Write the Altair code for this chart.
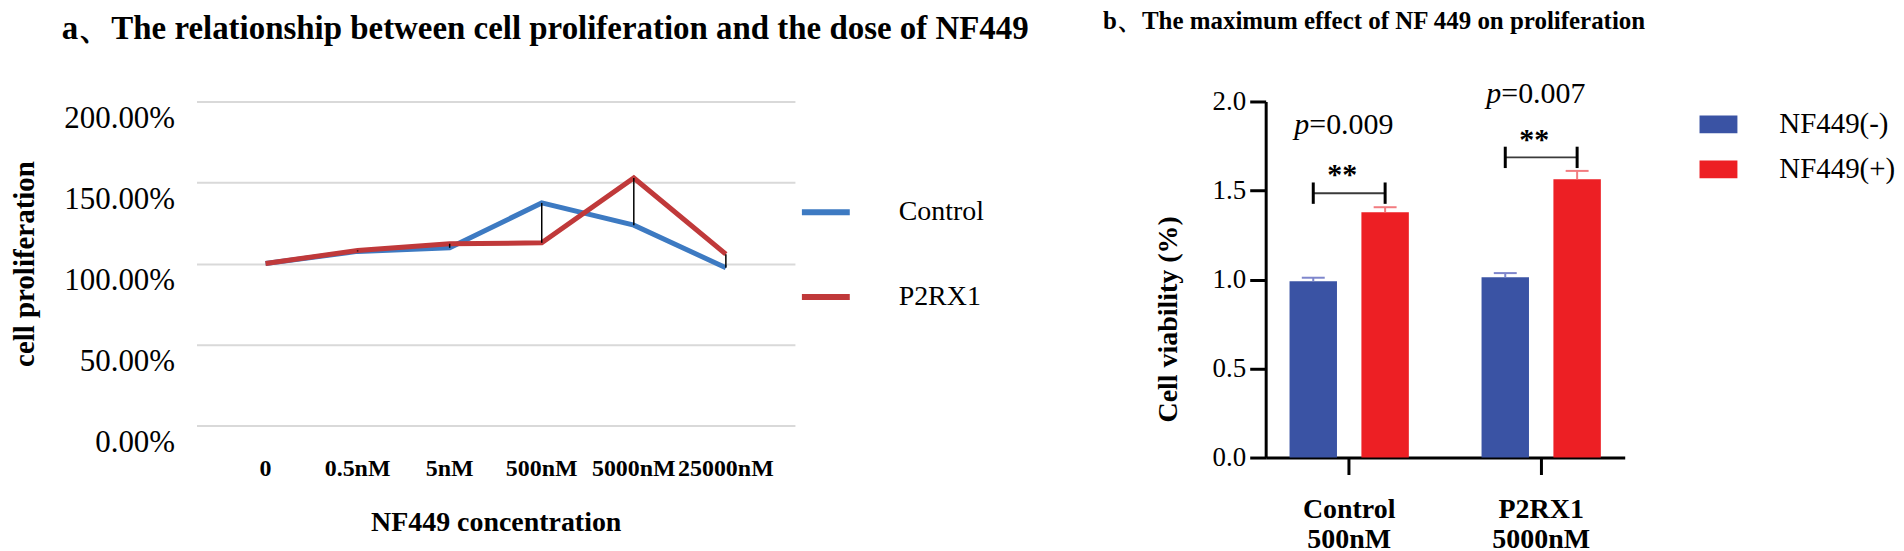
import altair as alt
import pandas as pd

# ---------------- Panel a data ----------------
concentrations = ["0", "0.5nM", "5nM", "500nM", "5000nM", "25000nM"]
control_prolif = [1.00, 1.075, 1.097, 1.374, 1.237, 0.974]
p2rx1_prolif = [1.00, 1.081, 1.122, 1.128, 1.528, 1.058]
series_names = ["Control", "P2RX1"]

# ---------------- Panel b data ----------------
groups = ["Control 500nM", "P2RX1 5000nM"]
treatments = ["NF449(-)", "NF449(+)"]
viability_neg = [0.99, 1.012]
viability_neg_sem = [0.02, 0.024]
viability_pos = [1.378, 1.563]
viability_pos_sem = [0.028, 0.047]
p_values = ["=0.009", "=0.007"]
stars = ["**", "**"]
bracket_level = [1.485, 1.686]
p_text_level = [1.82, 1.99]
star_level = [1.585, 1.785]

SERIF = "Liberation Serif"
BLUE_A, RED_A = "#3D7AC2", "#C0393A"
BLUE_B, RED_B = "#3A53A4", "#ED1F24"
BLUE_CAP, RED_CAP = "#7E86CC", "#F27C80"

# ---------------- Panel a ----------------
line_df = pd.DataFrame({
    "conc": concentrations * 2,
    "series": [series_names[0]] * len(concentrations) + [series_names[1]] * len(concentrations),
    "value": control_prolif + p2rx1_prolif,
})
hl_df = pd.DataFrame({
    "conc": concentrations,
    "lo": [min(a, b) for a, b in zip(control_prolif, p2rx1_prolif)],
    "hi": [max(a, b) for a, b in zip(control_prolif, p2rx1_prolif)],
})

xA = alt.X(
    "conc:N", sort=concentrations, scale=alt.Scale(padding=0.5),
    axis=alt.Axis(
        title="NF449 concentration", labelAngle=0, domain=False, ticks=False, grid=False,
        labelFont=SERIF, labelFontSize=24, labelFontWeight="bold", labelColor="black",
        labelPadding=31, titleFont=SERIF, titleFontSize=28, titleFontWeight="bold",
        titleColor="black", titlePadding=28,
    ),
)
yA = alt.Y(
    "value:Q", scale=alt.Scale(domain=[0, 2]),
    axis=alt.Axis(
        title="cell proliferation", values=[0, 0.5, 1, 1.5, 2], format=".2%",
        domain=False, ticks=False, grid=True, gridColor="#D9D9D9", gridWidth=2,
        labelFont=SERIF, labelFontSize=31, labelColor="black", labelPadding=22,
        labelOffset=17, titleFont=SERIF, titleFontSize=29, titleFontWeight="bold",
        titleColor="black", titlePadding=24,
    ),
)

lines = alt.Chart(line_df).mark_line(strokeWidth=5).encode(
    x=xA, y=yA,
    color=alt.Color(
        "series:N", sort=series_names,
        scale=alt.Scale(domain=series_names, range=[BLUE_A, RED_A]),
        legend=alt.Legend(
            title=None, orient="none", legendX=604, legendY=84,
            symbolType="stroke", symbolSize=2304, symbolStrokeWidth=6,
            labelFont=SERIF, labelFontSize=28, labelColor="black",
            labelOffset=46, rowPadding=44,
        ),
    ),
)
hilo = alt.Chart(hl_df).mark_rule(color="black", strokeWidth=1.5).encode(
    x=alt.X("conc:N", sort=concentrations), y="lo:Q", y2="hi:Q"
)

panel_a = alt.layer(lines, hilo).properties(
    width=600, height=325,
    title=alt.TitleParams(
        "a、The relationship between cell proliferation and the dose of NF449",
        font=SERIF, fontSize=33, fontWeight="bold", color="black",
        anchor="start", frame="group", dx=-135, offset=56,
    ),
)

# ---------------- Panel b ----------------
bar_df = pd.DataFrame({
    "group": groups * 2,
    "treat": [treatments[0]] * 2 + [treatments[1]] * 2,
    "mean": viability_neg + viability_pos,
    "sem": viability_neg_sem + viability_pos_sem,
})
bar_df["top"] = bar_df["mean"] + bar_df["sem"]
bar_df["cap_color"] = [BLUE_CAP] * 2 + [RED_CAP] * 2

br_rows = []
for g, lvl in zip(groups, bracket_level):
    for t in treatments:
        br_rows.append({"group": g, "treat": t, "level": lvl,
                        "lo": lvl - 0.06, "hi": lvl + 0.06})
br_df = pd.DataFrame(br_rows)

ann_df = pd.DataFrame({
    "group": groups, "pval": p_values, "stars": stars,
    "p_y": p_text_level, "star_y": star_level,
})

xB = alt.X(
    "group:N", sort=groups, scale=alt.Scale(paddingInner=0.33, paddingOuter=0.1),
    axis=alt.Axis(
        title=None, labelAngle=0, domain=True, domainColor="black", domainWidth=3,
        ticks=True, tickColor="black", tickWidth=3, tickSize=17,
        labelFont=SERIF, labelFontSize=28, labelFontWeight="bold", labelColor="black",
        labelPadding=21, labelLineHeight=30, labelExpr="split(datum.label, ' ')",
    ),
)
xoffB = alt.XOffset("treat:N", sort=treatments,
                    scale=alt.Scale(paddingInner=0.34, paddingOuter=0.065))
yB = alt.Y(
    "mean:Q", scale=alt.Scale(domain=[0, 2]),
    axis=alt.Axis(
        title="Cell  viability (%)", values=[0, 0.5, 1, 1.5, 2], format=".1f",
        grid=False, domain=True, domainColor="black", domainWidth=3,
        ticks=True, tickColor="black", tickWidth=3, tickSize=16,
        labelFont=SERIF, labelFontSize=27, labelColor="black", labelPadding=4,
        titleFont=SERIF, titleFontSize=28, titleFontWeight="bold", titleColor="black",
        titleAngle=270, titleX=-97, titleY=218, titleAlign="center", titleBaseline="middle",
    ),
)

bars = alt.Chart(bar_df).mark_bar(opacity=1).encode(
    x=xB, xOffset=xoffB, y=yB,
    color=alt.Color(
        "treat:N", sort=treatments,
        scale=alt.Scale(domain=treatments, range=[BLUE_B, RED_B]),
        legend=alt.Legend(
            title=None, orient="none", legendX=435, legendY=4,
            symbolType="M-1,-0.47H1V0.47H-1Z", symbolSize=1444, symbolStrokeWidth=0,
            symbolOpacity=1,
            labelFont=SERIF, labelFontSize=29, labelColor="black",
            labelOffset=42, rowPadding=11,
        ),
    ),
)
err_stem = alt.Chart(bar_df).mark_rule(strokeWidth=2, opacity=1).encode(
    x=alt.X("group:N", sort=groups), xOffset=xoffB,
    y="mean:Q", y2="top:Q", color=alt.Color("cap_color:N", scale=None, legend=None),
)
err_cap = alt.Chart(bar_df).mark_tick(size=23, thickness=2, opacity=1).encode(
    x=alt.X("group:N", sort=groups), xOffset=xoffB,
    y="top:Q", color=alt.Color("cap_color:N", scale=None, legend=None),
)
br_line = alt.Chart(br_df).mark_line(color="#3a3a3a", strokeWidth=2).encode(
    x=alt.X("group:N", sort=groups), xOffset=xoffB, y="level:Q", detail="group:N",
)
br_ends = alt.Chart(br_df).mark_rule(color="black", strokeWidth=3).encode(
    x=alt.X("group:N", sort=groups), xOffset=xoffB, y="lo:Q", y2="hi:Q",
)
p_italic = alt.Chart(ann_df).mark_text(
    text="p", font=SERIF, fontSize=30, fontStyle="italic", color="black",
    align="right", baseline="alphabetic", dx=-40,
).encode(x=alt.X("group:N", sort=groups), y="p_y:Q")
p_rest = alt.Chart(ann_df).mark_text(
    font=SERIF, fontSize=30, color="black", align="left", baseline="alphabetic", dx=-40,
).encode(x=alt.X("group:N", sort=groups), y="p_y:Q", text="pval:N")
star_txt = alt.Chart(ann_df).mark_text(
    font=SERIF, fontSize=30, fontWeight="bold", color="black",
    align="center", baseline="middle", dx=-7,
).encode(x=alt.X("group:N", sort=groups), y="star_y:Q", text="stars:N")

panel_b = alt.layer(bars, err_stem, err_cap, br_line, br_ends, p_italic, p_rest, star_txt).properties(
    width=360, height=357,
    title=alt.TitleParams(
        "b、The maximum effect of NF 449 on proliferation",
        font=SERIF, fontSize=25, fontWeight="bold", color="black",
        anchor="start", frame="group", dx=-163, offset=45,
    ),
)

chart = alt.hconcat(panel_a, panel_b, spacing=472, bounds="flush").resolve_scale(
    color="independent"
).properties(
    padding={"left": 2, "top": 0, "right": 0, "bottom": 0},
    background="white",
).configure_view(stroke=None)

chart.save("out.html", embed_options={"renderer": "svg", "actions": False})
